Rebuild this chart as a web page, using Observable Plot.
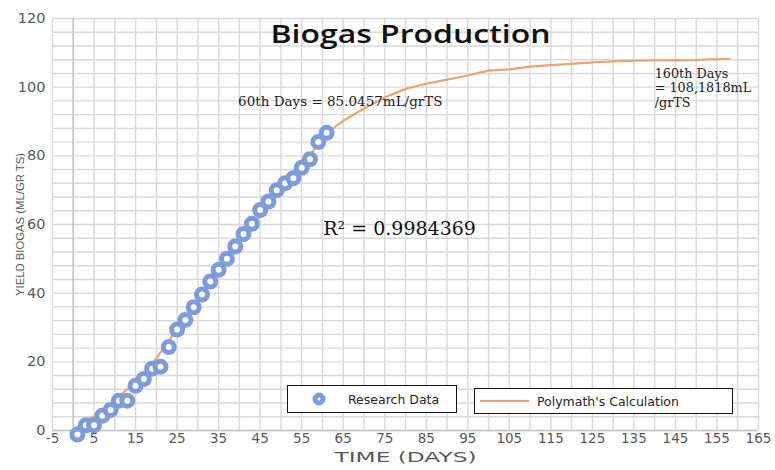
<!DOCTYPE html>
<html>
<head>
<meta charset="utf-8">
<script src="https://cdn.jsdelivr.net/npm/d3@7"></script>
<script src="https://cdn.jsdelivr.net/npm/@observablehq/plot@0.6"></script>
<style>
  html, body { margin: 0; padding: 0; background: #fff; }
  #wrap { position: relative; width: 775px; height: 470px; overflow: hidden; }
  #wrap svg { position: absolute; left: 0; top: 0; }
  .leg { position: absolute; box-sizing: border-box; border: 1.5px solid #111; background: #fff;
         font-family: "DejaVu Sans", sans-serif; font-size: 12.5px; color: #262626; white-space: nowrap; }
  .leg span { position: absolute; top: 50%; transform: translateY(-50%); }
</style>
</head>
<body>
<div id="wrap"></div>
<script>
// ---- data ----
const researchDays = [1, 3, 5, 7, 9, 11, 13, 15, 17, 19, 21, 23, 25, 27, 29, 31,
                      33, 35, 37, 39, 41, 43, 45, 47, 49, 51, 53, 55, 57, 59, 61];
const researchYield = [-1.2, 1.5, 1.5, 4.3, 6.0, 8.7, 8.7, 13.0, 15.0, 18.0, 18.6, 24.3, 29.4, 32.2, 35.9, 39.6,
                       43.4, 46.8, 50.0, 53.6, 57.2, 60.2, 64.2, 66.7, 70.0, 72.0, 73.5, 76.5, 79.0, 84.0, 86.7];

const calcDays = [0, 3, 5, 10, 15, 20, 25, 30, 35, 40, 45, 50, 55, 60, 62, 65, 70, 75, 80, 85,
                  90, 95, 100, 105, 110, 115, 120, 125, 130, 135, 140, 145, 150, 153, 158];
const calcYield = [0, 3, 4, 9, 14, 21, 29.5, 37.5, 46, 55, 62.5, 70, 77, 85.0, 87.5, 90.2, 93.8, 97, 99.5, 101,
                   102.2, 103.4, 104.8, 105.2, 106, 106.4, 106.8, 107.2, 107.5, 107.7, 107.8, 107.8, 107.9, 108.1, 108.2];

const xTicks = [-5, 5, 15, 25, 35, 45, 55, 65, 75, 85, 95, 105, 115, 125, 135, 145, 155, 165];
const yTicks = [0, 20, 40, 60, 80, 100, 120];
const xGrid = [-5, 0, 5, 10, 15, 20, 25, 30, 35, 40, 45, 50, 55, 60, 65, 70, 75, 80, 85,
               90, 95, 100, 105, 110, 115, 120, 125, 130, 135, 140, 145, 150, 155, 160, 165];
const yGrid = [0, 4, 8, 12, 16, 20, 24, 28, 32, 36, 40, 44, 48, 52, 56, 60, 64, 68, 72, 76,
               80, 84, 88, 92, 96, 100, 104, 108, 112, 116, 120];

const titleText = "Biogas Production";
const xTitle = "TIME (DAYS)";
const yTitle = "YIELD BIOGAS (ML/GR TS)";
const seriesNames = ["Research Data", "Polymath's Calculation"];

const annotations60 = [{x: 64.3, y: 95.8, text: "60th Days = 85.0457mL/grTS"}];
const annotationsR2 = [{x: 60.2, y: 58.6, text: "R\u00B2 = 0.9984369"}];
const note160 = [{x: 140, y: 105.6, text: "160th Days\n= 108,1818mL\n/grTS"}];

// ---- build ----
const research = researchDays.map((d, i) => ({day: d, val: researchYield[i]}));
const calc = calcDays.map((d, i) => ({day: d, val: calcYield[i]}));

const plot = Plot.plot({
  width: 775,
  height: 470,
  marginLeft: 52,
  marginRight: 17,
  marginTop: 18,
  marginBottom: 40,
  style: {fontFamily: "DejaVu Sans, sans-serif", background: "white", color: "#595959", overflow: "visible"},
  x: {domain: [-5, 165]},
  y: {domain: [0, 120]},
  marks: [
    Plot.ruleX(xGrid, {stroke: "#d9d9d9", strokeWidth: 1.4}),
    Plot.ruleY(yGrid, {stroke: "#d9d9d9", strokeWidth: 1.4}),
    Plot.ruleX([0], {stroke: "#c6c6c6", strokeWidth: 1.5}),
    Plot.ruleY([0], {stroke: "#c6c6c6", strokeWidth: 1.5}),
    Plot.axisX({ticks: xTicks, tickSize: 0, tickPadding: 3, fontSize: 13.5, label: null, tickFormat: d => String(d)}),
    Plot.axisY({ticks: yTicks, tickSize: 0, tickPadding: 7, fontSize: 14.5, label: null, tickFormat: d => String(d)}),
    Plot.line(calc, {x: "day", y: "val", stroke: "#eba46f", strokeWidth: 2.2}),
    Plot.dot(research, {x: "day", y: "val", r: 5.5, stroke: "#7d9cd9", strokeWidth: 5, fill: "white"}),
    Plot.text([titleText], {frameAnchor: "top", dx: 5, dy: 7, lineAnchor: "top", fontSize: 25, fontWeight: 600, fill: "#111", fontFamily: "Open Sans, sans-serif"}),
    Plot.text([xTitle], {frameAnchor: "bottom", dy: 31, fontSize: 14.5, fill: "#595959"}),
    Plot.text([yTitle], {frameAnchor: "left", textAnchor: "middle", dx: -32, rotate: -90, fontSize: 11.3, fill: "#595959", fontFamily: "Liberation Sans, sans-serif"}),
    Plot.text(annotations60, {x: "x", y: "y", text: "text", textAnchor: "middle", fontSize: 13.5, fill: "#222", fontFamily: "DejaVu Serif, serif"}),
    Plot.text(annotationsR2, {x: "x", y: "y", text: "text", textAnchor: "start", fontSize: 19, fill: "#111", fontFamily: "DejaVu Serif, serif"}),
    Plot.text(note160, {x: "x", y: "y", text: "text", textAnchor: "start", lineAnchor: "top", lineHeight: 1.12, fontSize: 12.8, fill: "#222", fontFamily: "DejaVu Serif, serif"})
  ]
});

const wrap = document.getElementById("wrap");
wrap.appendChild(plot);

// stretch the title to the reference width
d3.select(plot).selectAll("text").filter(function() { return this.textContent === titleText; })
  .attr("textLength", 280).attr("lengthAdjust", "spacingAndGlyphs");
// widen the x-axis title to the reference width
d3.select(plot).selectAll("text").filter(function() { return this.textContent === xTitle; })
  .attr("textLength", 142).attr("lengthAdjust", "spacingAndGlyphs");

// legend boxes
const leg1 = document.createElement("div");
leg1.className = "leg";
Object.assign(leg1.style, {left: "287px", top: "385px", width: "170px", height: "28px"});
leg1.innerHTML = `<svg width="16" height="14" style="position:absolute;left:23px;top:6px">
  <circle cx="8" cy="7" r="4" fill="white" stroke="#7d9cd9" stroke-width="5"></circle></svg>
  <span style="left:60px">${seriesNames[0]}</span>`;
wrap.appendChild(leg1);

const leg2 = document.createElement("div");
leg2.className = "leg";
Object.assign(leg2.style, {left: "474px", top: "388px", width: "259px", height: "26px"});
leg2.innerHTML = `<div style="position:absolute;left:5px;top:11px;width:49px;height:2.2px;background:#eba46f"></div>
  <span style="left:62px">${seriesNames[1]}</span>`;
wrap.appendChild(leg2);
</script>
</body>
</html>
